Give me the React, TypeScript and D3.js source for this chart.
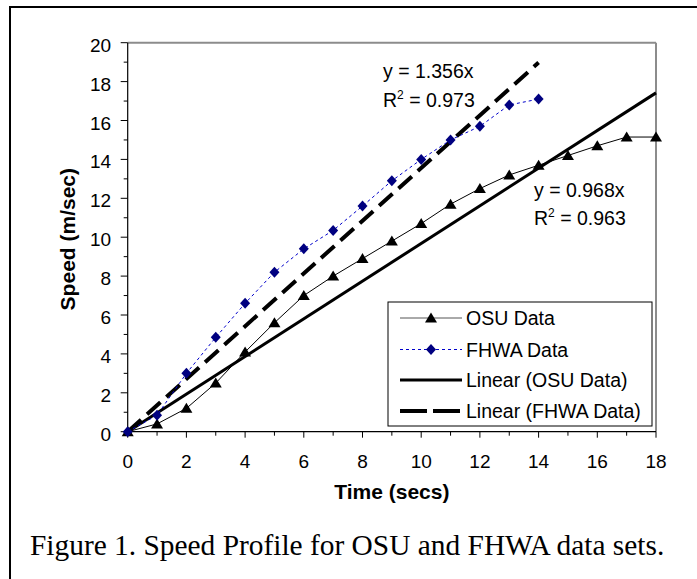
import * as d3 from "d3";

// data
const timeSecs = [0, 1, 2, 3, 4, 5, 6, 7, 8, 9, 10, 11, 12, 13, 14, 15, 16, 17, 18];
const osuSpeed = [0, 0.4, 1.2, 2.5, 4.1, 5.6, 7.0, 8.0, 8.9, 9.8, 10.7, 11.7, 12.5, 13.2, 13.7, 14.2, 14.7, 15.15, 15.15];
const fhwaSpeed = [0, 0.85, 3.0, 4.85, 6.6, 8.2, 9.4, 10.35, 11.6, 12.9, 14.0, 15.0, 15.7, 16.8, 17.1];

// linear trendlines (end points as drawn)
const osuTrendX = [0, 18];
const osuTrendY = [0, 17.42];
const fhwaTrendX = [0, 14];
const fhwaTrendY = [0, 18.98];

const xTicks = [0, 2, 4, 6, 8, 10, 12, 14, 16, 18];
const yTicks = [0, 2, 4, 6, 8, 10, 12, 14, 16, 18, 20];

const legendLabels = ["OSU Data", "FHWA Data", "Linear (OSU Data)", "Linear (FHWA Data)"];

const W = 697;
const H = 579;
const SANS = "'Liberation Sans', Arial, sans-serif";
const SERIF = "'Liberation Serif', 'Times New Roman', serif";
const NAVY = "#000080";

export default function App() {
  const left = 127.7, right = 656, top = 42.7, bottom = 431.7;
  const x = d3.scaleLinear().domain([0, 18]).range([left, right]);
  const y = d3.scaleLinear().domain([0, 20]).range([bottom, top]);

  const line = d3
    .line<[number, number]>()
    .x(d => x(d[0]))
    .y(d => y(d[1]));

  const osuPts = osuSpeed.map((v, i) => [timeSecs[i], v] as [number, number]);
  const fhwaPts = fhwaSpeed.map((v, i) => [timeSecs[i], v] as [number, number]);
  const osuTrend = osuTrendX.map((t, i) => [t, osuTrendY[i]] as [number, number]);
  const fhwaTrend = fhwaTrendX.map((t, i) => [t, fhwaTrendY[i]] as [number, number]);

  const tri = (cx: number, cy: number) =>
    `M${cx},${cy - 5.5} L${cx + 6},${cy + 4.5} L${cx - 6},${cy + 4.5} Z`;
  const dia = (cx: number, cy: number) =>
    `M${cx},${cy - 5.5} L${cx + 5},${cy} L${cx},${cy + 5.5} L${cx - 5},${cy} Z`;

  const minorY = d3.range(1, 20, 2);
  const allX = d3.range(0, 19);

  // legend geometry
  const lgX = 388, lgY = 302, lgW = 264, lgH = 124;
  const rowY = [318, 349.5, 380, 411];
  const sx0 = 400, sx1 = 462, txtX = 466;

  return (
    <svg
      width={W}
      height={H}
      style={{ position: "absolute", left: 0, top: 0, background: "#fff" }}
    >
      <rect x={0} y={0} width={W} height={H} fill="#fff" />
      {/* outer frame, cropped on the right and bottom */}
      <rect x={10} y={7} width={W + 20} height={H + 20} fill="none" stroke="#000" strokeWidth={2} />

      {/* plot area border (gray) */}
      <line x1={left} y1={top} x2={right} y2={top} stroke="#8c8c8c" strokeWidth={2} />
      <line x1={right} y1={top} x2={right} y2={bottom} stroke="#8c8c8c" strokeWidth={2} />

      {/* y axis */}
      <line x1={left} y1={top} x2={left} y2={bottom} stroke="#000" strokeWidth={1.2} />
      {yTicks.map(t => (
        <g key={"yt" + t}>
          <line x1={left - 7} x2={left} y1={y(t)} y2={y(t)} stroke="#000" strokeWidth={1} />
          <text x={left - 16.5} y={y(t) + 9} textAnchor="end" fontFamily={SANS} fontSize={19} fill="#000">
            {t}
          </text>
        </g>
      ))}
      {minorY.map(t => (
        <line key={"ym" + t} x1={left - 4} x2={left} y1={y(t)} y2={y(t)} stroke="#000" strokeWidth={1} />
      ))}

      {/* x axis */}
      <line x1={left} y1={bottom} x2={right} y2={bottom} stroke="#000" strokeWidth={1.2} />
      {allX.map(t => (
        <line
          key={"xt" + t}
          x1={x(t)}
          x2={x(t)}
          y1={bottom}
          y2={bottom + (t % 2 === 0 ? 6 : 4)}
          stroke="#000"
          strokeWidth={1}
        />
      ))}
      {xTicks.map(t => (
        <text key={"xl" + t} x={x(t)} y={468} textAnchor="middle" fontFamily={SANS} fontSize={19} fill="#000">
          {t}
        </text>
      ))}

      {/* axis titles */}
      <text x={(left + right) / 2} y={499} textAnchor="middle" fontFamily={SANS} fontWeight="bold" fontSize={21}>
        Time (secs)
      </text>
      <text
        transform={`translate(75,${(top + bottom) / 2 + 2}) rotate(-90)`}
        textAnchor="middle"
        fontFamily={SANS}
        fontWeight="bold"
        fontSize={21}
      >
        Speed (m/sec)
      </text>

      {/* trendlines */}
      <path d={line(osuTrend)!} fill="none" stroke="#000" strokeWidth={3} />
      <path d={line(fhwaTrend)!} fill="none" stroke="#000" strokeWidth={4} strokeDasharray="18,8" />

      {/* OSU data */}
      <path d={line(osuPts)!} fill="none" stroke="#000" strokeWidth={1} />
      {osuPts.map((p, i) => (
        <path key={"o" + i} d={tri(x(p[0]), y(p[1]))} fill="#000" />
      ))}

      {/* FHWA data */}
      <path d={line(fhwaPts)!} fill="none" stroke="#0000cc" strokeWidth={1} strokeDasharray="3,3" />
      {fhwaPts.map((p, i) => (
        <path key={"f" + i} d={dia(x(p[0]), y(p[1]))} fill={NAVY} />
      ))}

      {/* trendline equations */}
      <g fontFamily={SANS} fontSize={19.5} fill="#000">
        <text x={383} y={78}>y = 1.356x</text>
        <text x={383} y={106.5}>
          R<tspan fontSize={12} dy={-8}>2</tspan>
          <tspan dy={8}> = 0.973</tspan>
        </text>
        <text x={534} y={196.5}>y = 0.968x</text>
        <text x={534} y={225}>
          R<tspan fontSize={12} dy={-8}>2</tspan>
          <tspan dy={8}> = 0.963</tspan>
        </text>
      </g>

      {/* legend */}
      <rect x={lgX} y={lgY} width={lgW} height={lgH} fill="#fff" stroke="#000" strokeWidth={1} />
      <line x1={sx0} x2={sx1} y1={rowY[0]} y2={rowY[0]} stroke="#555" strokeWidth={1} />
      <path d={tri((sx0 + sx1) / 2, rowY[0])} fill="#000" />
      <line x1={sx0} x2={sx1} y1={rowY[1]} y2={rowY[1]} stroke="#0000cc" strokeWidth={1} strokeDasharray="3,3" />
      <path d={dia((sx0 + sx1) / 2, rowY[1])} fill={NAVY} />
      <line x1={sx0} x2={sx1} y1={rowY[2]} y2={rowY[2]} stroke="#000" strokeWidth={3} />
      <line x1={sx0} x2={sx1} y1={rowY[3]} y2={rowY[3]} stroke="#000" strokeWidth={4} strokeDasharray="27,6" />
      {legendLabels.map((lab, i) => (
        <text
          key={lab}
          x={txtX}
          y={rowY[i] + 7}
          fontFamily={SANS}
          fontSize={19.5}
          fill="#000"
        >
          {lab}
        </text>
      ))}

      {/* caption */}
      <text x={30} y={555} fontFamily={SERIF} fontSize={29.4} fill="#000">
        Figure 1. Speed Profile for OSU and FHWA data sets.
      </text>
    </svg>
  );
}
